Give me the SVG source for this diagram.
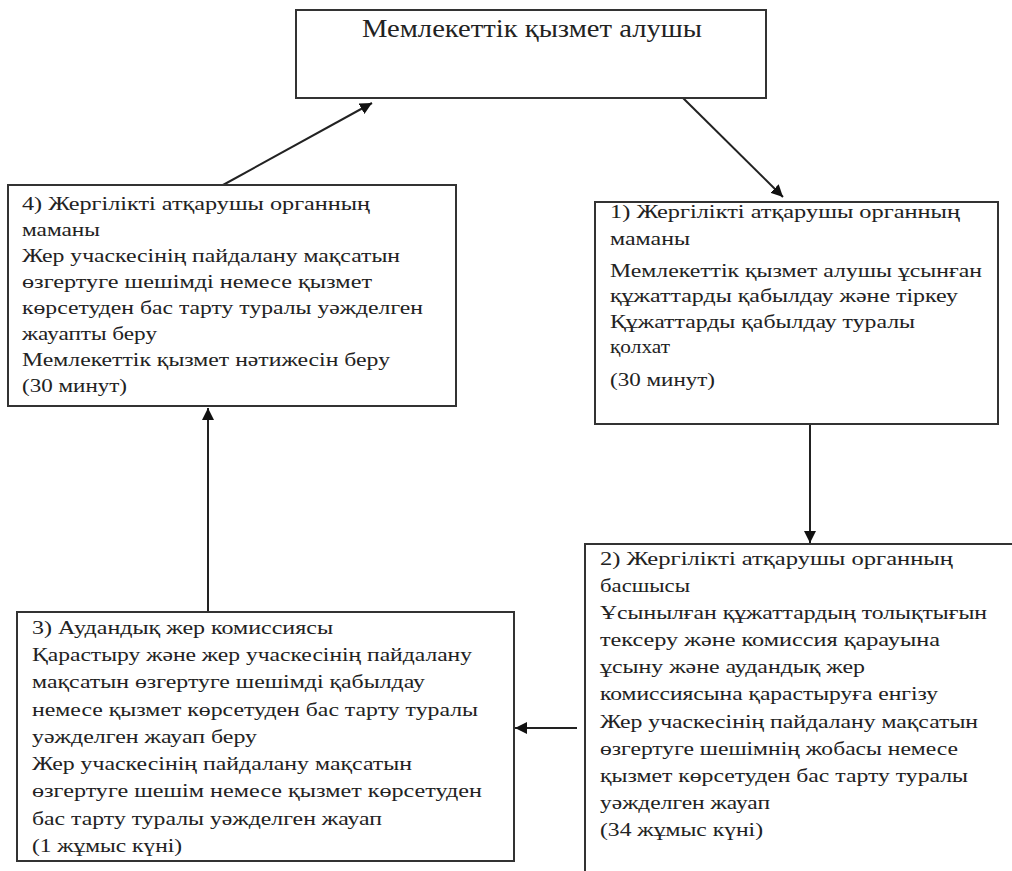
<svg xmlns="http://www.w3.org/2000/svg" width="1012" height="871" viewBox="0 0 1012 871">
<style>
.box{fill:#fff;stroke:#333;stroke-width:2}
.t{font-family:"Liberation Serif","DejaVu Serif",serif;font-size:19px;fill:#222}
.title{font-family:"Liberation Serif","DejaVu Serif",serif;font-size:26px;fill:#222}
.c{stroke:#222;stroke-width:2;fill:none;marker-end:url(#ah)}
</style>
<defs>
<marker id="ah" markerUnits="userSpaceOnUse" markerWidth="12" markerHeight="12" refX="12" refY="6" orient="auto">
<path d="M0,0 L12,6 L0,12 z" fill="#111"/>
</marker>
</defs>
<rect width="1012" height="871" fill="#fff"/>
<g id="connectors">
<line class="c" x1="683" y1="98" x2="783" y2="197"/>
<line class="c" x1="223" y1="185" x2="372" y2="103"/>
<line class="c" x1="810" y1="424" x2="810" y2="543"/>
<line class="c" x1="577" y1="728" x2="515" y2="728"/>
<line class="c" x1="208" y1="612" x2="208" y2="408"/>
</g>
<g id="node-top">
<rect class="box" x="296" y="10" width="470" height="88"/>
<text class="title" x="362" y="37" textLength="340" lengthAdjust="spacingAndGlyphs">Мемлекеттік қызмет алушы</text>
</g>
<g id="node-1">
<rect class="box" x="595" y="202" width="403" height="222"/>
<text class="t" x="610" y="218" textLength="350" lengthAdjust="spacingAndGlyphs">1)  Жергілікті атқарушы органның</text>
<text class="t" x="610" y="245" textLength="80" lengthAdjust="spacingAndGlyphs">маманы</text>
<text class="t" x="610" y="277" textLength="372" lengthAdjust="spacingAndGlyphs">Мемлекеттік қызмет алушы ұсынған</text>
<text class="t" x="610" y="302" textLength="348" lengthAdjust="spacingAndGlyphs">құжаттарды қабылдау және тіркеу</text>
<text class="t" x="610" y="328" textLength="305" lengthAdjust="spacingAndGlyphs">Құжаттарды қабылдау туралы</text>
<text class="t" x="610" y="353" textLength="60" lengthAdjust="spacingAndGlyphs">қолхат</text>
<text class="t" x="610" y="386" textLength="105" lengthAdjust="spacingAndGlyphs">(30 минут)</text>
</g>
<g id="node-2">
<rect class="box" x="585" y="544" width="440" height="340"/>
<text class="t" x="600" y="565" textLength="353" lengthAdjust="spacingAndGlyphs">2)   Жергілікті атқарушы органның</text>
<text class="t" x="600" y="592" textLength="90" lengthAdjust="spacingAndGlyphs">басшысы</text>
<text class="t" x="600" y="619" textLength="387" lengthAdjust="spacingAndGlyphs">Ұсынылған құжаттардың  толықтығын</text>
<text class="t" x="600" y="646" textLength="340" lengthAdjust="spacingAndGlyphs">тексеру және  комиссия қарауына</text>
<text class="t" x="600" y="673" textLength="265" lengthAdjust="spacingAndGlyphs">ұсыну және аудандық  жер</text>
<text class="t" x="600" y="700" textLength="338" lengthAdjust="spacingAndGlyphs">комиссиясына қарастыруға енгізу</text>
<text class="t" x="600" y="728" textLength="378" lengthAdjust="spacingAndGlyphs">Жер учаскесінің  пайдалану  мақсатын</text>
<text class="t" x="600" y="755" textLength="358" lengthAdjust="spacingAndGlyphs">өзгертуге шешімнің  жобасы немесе</text>
<text class="t" x="600" y="782" textLength="368" lengthAdjust="spacingAndGlyphs">қызмет көрсетуден бас  тарту туралы</text>
<text class="t" x="600" y="809" textLength="170" lengthAdjust="spacingAndGlyphs">уәжделген жауап</text>
<text class="t" x="600" y="836" textLength="163" lengthAdjust="spacingAndGlyphs">(34 жұмыс күні)</text>
</g>
<g id="node-3">
<rect class="box" x="17" y="612" width="497" height="249"/>
<text class="t" x="32" y="634" textLength="301" lengthAdjust="spacingAndGlyphs">3) Аудандық жер комиссиясы</text>
<text class="t" x="32" y="661" textLength="440" lengthAdjust="spacingAndGlyphs">Қарастыру және жер учаскесінің  пайдалану</text>
<text class="t" x="32" y="688" textLength="393" lengthAdjust="spacingAndGlyphs">мақсатын өзгертуге шешімді қабылдау</text>
<text class="t" x="32" y="716" textLength="446" lengthAdjust="spacingAndGlyphs">немесе қызмет көрсетуден бас тарту туралы</text>
<text class="t" x="32" y="743" textLength="225" lengthAdjust="spacingAndGlyphs">уәжделген жауап  беру</text>
<text class="t" x="32" y="770" textLength="380" lengthAdjust="spacingAndGlyphs">Жер учаскесінің  пайдалану  мақсатын</text>
<text class="t" x="32" y="797" textLength="450" lengthAdjust="spacingAndGlyphs">өзгертуге шешім  немесе  қызмет көрсетуден</text>
<text class="t" x="32" y="825" textLength="350" lengthAdjust="spacingAndGlyphs">бас тарту туралы уәжделген жауап</text>
<text class="t" x="32" y="852" textLength="150" lengthAdjust="spacingAndGlyphs">(1 жұмыс күні)</text>
</g>
<g id="node-4">
<rect class="box" x="8" y="185" width="448" height="221"/>
<text class="t" x="22" y="210" textLength="348" lengthAdjust="spacingAndGlyphs">4)  Жергілікті атқарушы органның</text>
<text class="t" x="22" y="236" textLength="78" lengthAdjust="spacingAndGlyphs">маманы</text>
<text class="t" x="22" y="262" textLength="378" lengthAdjust="spacingAndGlyphs">Жер учаскесінің  пайдалану  мақсатын</text>
<text class="t" x="22" y="288" textLength="350" lengthAdjust="spacingAndGlyphs">өзгертуге шешімді немесе  қызмет</text>
<text class="t" x="22" y="314" textLength="401" lengthAdjust="spacingAndGlyphs">көрсетуден бас тарту  туралы уәжделген</text>
<text class="t" x="22" y="340" textLength="135" lengthAdjust="spacingAndGlyphs">жауапты беру</text>
<text class="t" x="22" y="366" textLength="368" lengthAdjust="spacingAndGlyphs">Мемлекеттік қызмет нәтижесін  беру</text>
<text class="t" x="22" y="392" textLength="105" lengthAdjust="spacingAndGlyphs">(30 минут)</text>
</g>
</svg>
